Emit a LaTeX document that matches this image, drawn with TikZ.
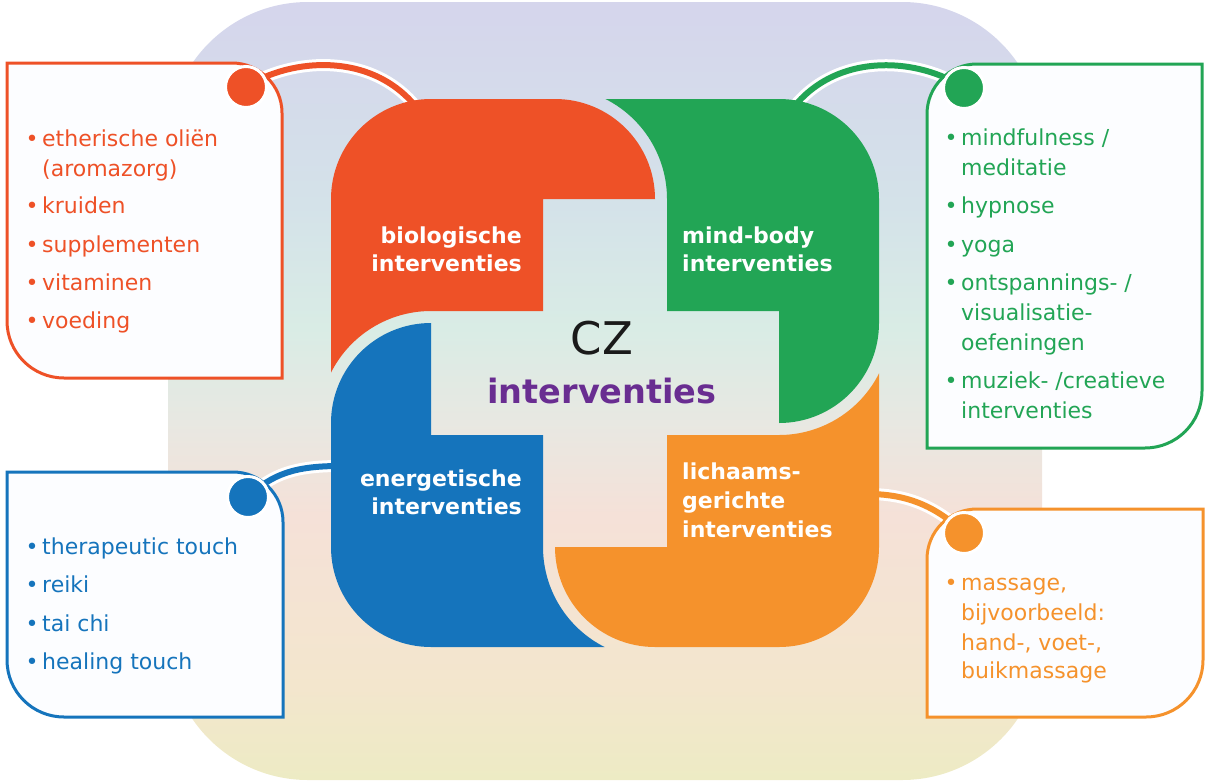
\documentclass[tikz,border=0pt]{standalone}
\usepackage{fontspec}
\setmainfont{DejaVu Sans}
\definecolor{cred}{RGB}{238,81,39}
\definecolor{cgreen}{RGB}{34,165,85}
\definecolor{cblue}{RGB}{21,116,188}
\definecolor{corange}{RGB}{245,146,44}
\definecolor{cpurple}{RGB}{105,45,145}
\definecolor{ctext}{RGB}{26,26,26}
\definecolor{boxfill}{RGB}{252,253,255}
\definecolor{bgA}{RGB}{237,235,196}
\definecolor{bgB}{RGB}{243,230,205}
\definecolor{bgC}{RGB}{245,225,216}
\definecolor{bgD}{RGB}{232,232,226}
\definecolor{bgE}{RGB}{217,236,229}
\definecolor{bgF}{RGB}{212,226,233}
\definecolor{bgG}{RGB}{213,213,236}
\pgfdeclareverticalshading{bgshade}{100bp}{color(0bp)=(bgA); color(25bp)=(bgA); color(31bp)=(bgB); color(42bp)=(bgC); color(48bp)=(bgD); color(54bp)=(bgE); color(62bp)=(bgF); color(75bp)=(bgG); color(100bp)=(bgG)}
\newcommand{\lbul}{\llap{•\hspace{3.5pt}}}
\newcommand{\petalpath}{(-274,0.45) -- (-274,174) arc[start angle=180,end angle=90,radius=100] -- (-50,274) arc[start angle=90,end angle=0,radius=100] -- (-62,174) -- (-62,62) -- (-174,62) arc[start angle=90,end angle=153.23,radius=112] -- cycle}
\tikzset{
  listtxt/.style={font=\fontsize{22}{26}\selectfont, inner sep=0pt, anchor=base west},
  pclabel/.style={font=\bfseries\fontsize{22}{26}\selectfont, text=white, inner sep=0pt},
  boxline/.style={line width=3pt, fill=boxfill},
  dotst/.style={circle, minimum size=41pt, inner sep=0pt, draw=white, line width=3pt},
  conline/.style={line width=6pt, preaction={draw=white, line width=12pt}},
}
\begin{document}
\begin{tikzpicture}[x=1pt,y=-1pt]
\useasboundingbox (0,0) rectangle (1214,782);
\shade[shading=bgshade, rounded corners=140pt] (168,2) rectangle (1042,780);

% anchor points
\coordinate (rdotc) at (246,87);
\coordinate (gdotc) at (964,88);
\coordinate (bdotc) at (248,497);
\coordinate (odotc) at (964,533);
\coordinate (redend) at (420,112);
\coordinate (greenend) at (790,112);
\coordinate (blueend) at (340,466);
\coordinate (orangeend) at (868,494);

% connectors
\draw[conline, draw=cred] (rdotc) .. controls (290,58) and (375,50) .. (redend);
\draw[conline, draw=cgreen] (gdotc) .. controls (920,58) and (835,50) .. (greenend);
\draw[conline, draw=cblue] (bdotc) .. controls (272,474) and (295,466) .. (blueend);
\draw[conline, draw=corange] (orangeend) .. controls (905,494) and (935,505) .. (odotc);

% pinwheel
\begin{scope}[shift={(605,373)}, x=1pt, y=1pt]
  \fill[cred] \petalpath;
  \fill[cgreen, rotate=-90] \petalpath;
  \fill[corange, rotate=180] \petalpath;
  \fill[cblue, rotate=90] \petalpath;
\end{scope}

% callout boxes
\draw[boxline, draw=cred] (7,63) -- (232,63) .. controls (259.6,63) and (282,85.4) .. (282,113) -- (282,378) -- (64,378) .. controls (32.5,378) and (7,352.5) .. (7,321) -- cycle;
\draw[boxline, draw=cgreen] (977,64) -- (1202,64) -- (1202,391) .. controls (1202,422.5) and (1176.5,448) .. (1145,448) -- (927,448) -- (927,114) .. controls (927,86.4) and (949.4,64) .. (977,64) -- cycle;
\draw[boxline, draw=cblue] (7,472) -- (233,472) .. controls (260.6,472) and (283,494.4) .. (283,522) -- (283,717) -- (64,717) .. controls (32.5,717) and (7,691.5) .. (7,660) -- cycle;
\draw[boxline, draw=corange] (977,509) -- (1203,509) -- (1203,660) .. controls (1203,691.5) and (1177.5,717) .. (1146,717) -- (927,717) -- (927,559) .. controls (927,531.4) and (949.4,509) .. (977,509) -- cycle;

% dots
\node[dotst, fill=cred] (rdot) at (rdotc) {};
\node[dotst, fill=cgreen] (gdot) at (gdotc) {};
\node[dotst, fill=cblue] (bdot) at (bdotc) {};
\node[dotst, fill=corange] (odot) at (odotc) {};

% piece labels
\node[pclabel, anchor=base east] (bio1) at (522,243) {biologische};
\node[pclabel, anchor=base east] (bio2) at (522,271) {interventies};
\node[pclabel, anchor=base west] (mb1) at (682,243) {mind-body};
\node[pclabel, anchor=base west] (mb2) at (682,271) {interventies};
\node[pclabel, anchor=base east] (en1) at (522,486) {energetische};
\node[pclabel, anchor=base east] (en2) at (522,514) {interventies};
\node[pclabel, anchor=base west] (li1) at (682,479) {lichaams-};
\node[pclabel, anchor=base west] (li2) at (682,508) {gerichte};
\node[pclabel, anchor=base west] (li3) at (682,537) {interventies};
\node[font=\fontsize{45}{50}\selectfont, text=ctext, anchor=base, inner sep=0pt] (cz) at (602,354) {CZ};
\node[font=\bfseries\fontsize{33.5}{40}\selectfont, text=cpurple, anchor=base, inner sep=0pt] (czi) at (602,403) {interventies};

% red list
\node[listtxt, text=cred] (r1) at (42,146) {\lbul etherische oliën};
\node[listtxt, text=cred] (r2) at (42,176) {(aromazorg)};
\node[listtxt, text=cred] (r3) at (42,213) {\lbul kruiden};
\node[listtxt, text=cred] (r4) at (42,252) {\lbul supplementen};
\node[listtxt, text=cred] (r5) at (42,290) {\lbul vitaminen};
\node[listtxt, text=cred] (r6) at (42,328) {\lbul voeding};

% green list
\node[listtxt, text=cgreen] (g1) at (961,145) {\lbul mindfulness /};
\node[listtxt, text=cgreen] (g2) at (961,175) {meditatie};
\node[listtxt, text=cgreen] (g3) at (961,213) {\lbul hypnose};
\node[listtxt, text=cgreen] (g4) at (961,252) {\lbul yoga};
\node[listtxt, text=cgreen] (g5) at (961,290) {\lbul ontspannings- /};
\node[listtxt, text=cgreen] (g6) at (961,320) {visualisatie-};
\node[listtxt, text=cgreen] (g7) at (961,350) {oefeningen};
\node[listtxt, text=cgreen] (g8) at (961,388) {\lbul muziek- /creatieve};
\node[listtxt, text=cgreen] (g9) at (961,418) {interventies};

% blue list
\node[listtxt, text=cblue] (b1) at (42,554) {\lbul therapeutic touch};
\node[listtxt, text=cblue] (b2) at (42,592) {\lbul reiki};
\node[listtxt, text=cblue] (b3) at (42,631) {\lbul tai chi};
\node[listtxt, text=cblue] (b4) at (42,669) {\lbul healing touch};

% orange list
\node[listtxt, text=corange] (o1) at (961,590) {\lbul massage,};
\node[listtxt, text=corange] (o2) at (961,620) {bijvoorbeeld:};
\node[listtxt, text=corange] (o3) at (961,650) {hand-, voet-,};
\node[listtxt, text=corange] (o4) at (961,678) {buikmassage};
\end{tikzpicture}
\end{document}
